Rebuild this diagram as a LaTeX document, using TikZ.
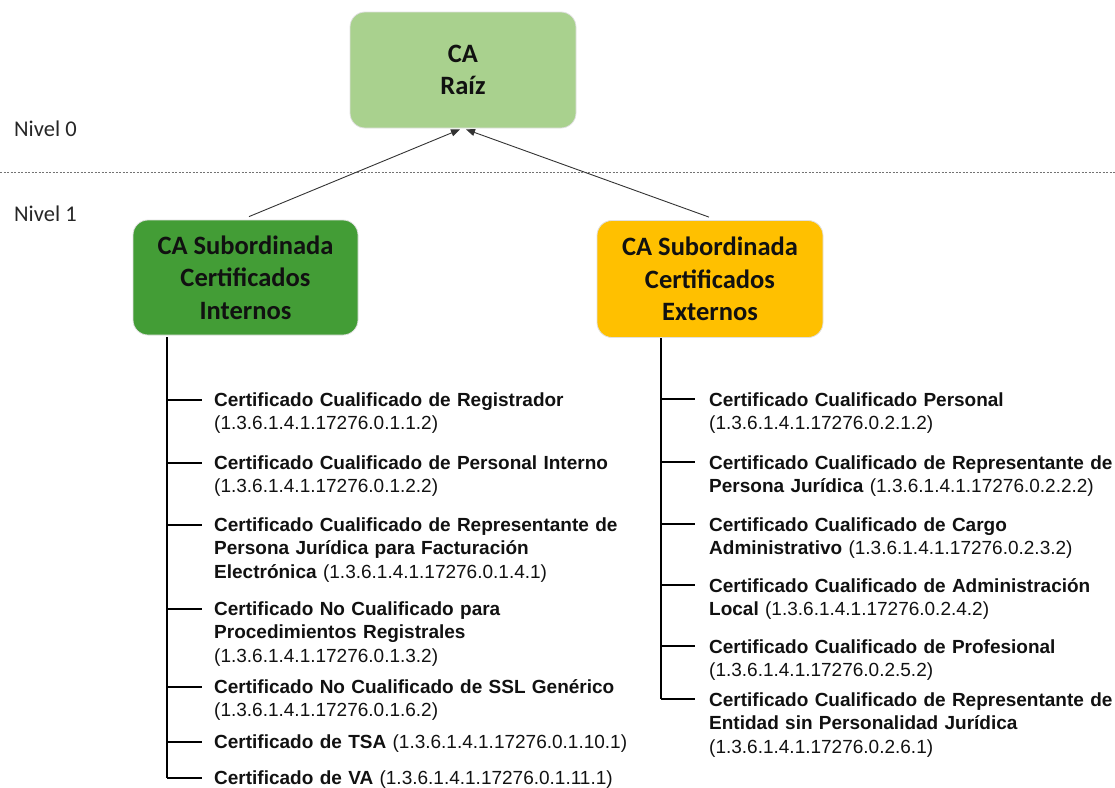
\documentclass[tikz,border=0pt]{standalone}
\usepackage{fontspec}
\setmainfont{Liberation Sans}
\newfontfamily\arialf{Liberation Sans}
\newfontfamily\carlito{Carlito}
\usetikzlibrary{arrows.meta}
\definecolor{rootgreen}{HTML}{A9D18E}
\definecolor{subgreen}{HTML}{439D36}
\definecolor{subgold}{HTML}{FFC000}
\definecolor{txt}{HTML}{111111}
\tikzset{
  cabox/.style={rounded corners=15pt, draw=black!12, line width=0.8pt, align=center,
    font=\carlito\bfseries\fontsize{26.5pt}{32.5pt}\selectfont, text=txt},
  item/.style={inner sep=0pt, anchor=base west, text width=430pt, align=left,
    font=\arialf\fontsize{19pt}{23.7pt}\selectfont, text=txt},
  lvl/.style={inner sep=0pt, anchor=west, font=\carlito\fontsize{22.5pt}{24pt}\selectfont, text=black!85},
  uparrow/.style={draw=black!80, line width=0.9pt, -{Triangle[length=9pt,width=7pt]}},
  trunkL/.style={draw=black, line width=1.7pt},
  trunkR/.style={draw=black, line width=1.2pt},
}
\begin{document}
\begin{tikzpicture}[x=1pt,y=-1pt]
\useasboundingbox (0,0) rectangle (1115,787);
% level separator
\draw[black!55, line width=1pt, dash pattern=on 2pt off 1.5pt] (0,172) -- (1115,172);
\node[lvl] (n0) at (14,129) {Nivel 0};
\node[lvl] (n1) at (14,214) {Nivel 1};
% boxes
\node[cabox, fill=rootgreen, minimum width=226pt, minimum height=116pt] (root) at (463,70) {CA\\Raíz};
\node[cabox, fill=subgreen, minimum width=225pt, minimum height=115pt] (subi) at (245.5,277.5) {CA Subordinada\\Certificados\\Internos};
\node[cabox, fill=subgold, minimum width=226pt, minimum height=117pt] (sube) at (710,279) {CA Subordinada\\Certificados\\Externos};
% arrows
\draw[uparrow] ([xshift=3.5pt,yshift=3pt]subi.north) -- ([xshift=-3pt,yshift=-1pt]root.south);
\draw[uparrow] ([xshift=-1pt,yshift=3pt]sube.north) -- ([xshift=3pt,yshift=-1pt]root.south);
% left items
\node[item] (L1) at (214,406) {\textbf{Certificado Cualificado de Registrador}\\(1.3.6.1.4.1.17276.0.1.1.2)};
\node[item] (L2) at (214,469) {\textbf{Certificado Cualificado de Personal Interno}\\(1.3.6.1.4.1.17276.0.1.2.2)};
\node[item] (L3) at (214,531) {\textbf{Certificado Cualificado de Representante de}\\\textbf{Persona Jurídica para Facturación}\\\textbf{Electrónica} (1.3.6.1.4.1.17276.0.1.4.1)};
\node[item] (L4) at (214,615) {\textbf{Certificado No Cualificado para}\\\textbf{Procedimientos Registrales}\\(1.3.6.1.4.1.17276.0.1.3.2)};
\node[item] (L5) at (214,693) {\textbf{Certificado No Cualificado de SSL Genérico}\\(1.3.6.1.4.1.17276.0.1.6.2)};
\node[item] (L6) at (214,748) {\textbf{Certificado de TSA} (1.3.6.1.4.1.17276.0.1.10.1)};
\node[item] (L7) at (214,784) {\textbf{Certificado de VA} (1.3.6.1.4.1.17276.0.1.11.1)};
% right items
\node[item] (R1) at (709,406) {\textbf{Certificado Cualificado Personal}\\(1.3.6.1.4.1.17276.0.2.1.2)};
\node[item] (R2) at (709,469) {\textbf{Certificado Cualificado de Representante de}\\\textbf{Persona Jurídica} (1.3.6.1.4.1.17276.0.2.2.2)};
\node[item] (R3) at (709,531) {\textbf{Certificado Cualificado de Cargo}\\\textbf{Administrativo} (1.3.6.1.4.1.17276.0.2.3.2)};
\node[item] (R4) at (709,592) {\textbf{Certificado Cualificado de Administración}\\\textbf{Local} (1.3.6.1.4.1.17276.0.2.4.2)};
\node[item] (R5) at (709,653) {\textbf{Certificado Cualificado de Profesional}\\(1.3.6.1.4.1.17276.0.2.5.2)};
\node[item] (R6) at (709,706) {\textbf{Certificado Cualificado de Representante de}\\\textbf{Entidad sin Personalidad Jurídica}\\(1.3.6.1.4.1.17276.0.2.6.1)};
% tree connectors
\coordinate (tL) at (167,337);
\coordinate (tR) at (661,338);
\foreach \n in {L1,L2,L3,L4,L5,L6,L7}{
  \coordinate (\n t) at ([xshift=-12pt,yshift=6pt]\n.base west);
  \draw[trunkL] (tL |- \n t) -- (\n t);
}
\draw[trunkL] (tL) -- (tL |- L7t);
\foreach \n in {R1,R2,R3,R4,R5,R6}{
  \coordinate (\n t) at ([xshift=-14pt,yshift=7pt]\n.base west);
  \draw[trunkR] (tR |- \n t) -- (\n t);
}
\draw[trunkR] (tR) -- (tR |- R6t);
\end{tikzpicture}
\end{document}
